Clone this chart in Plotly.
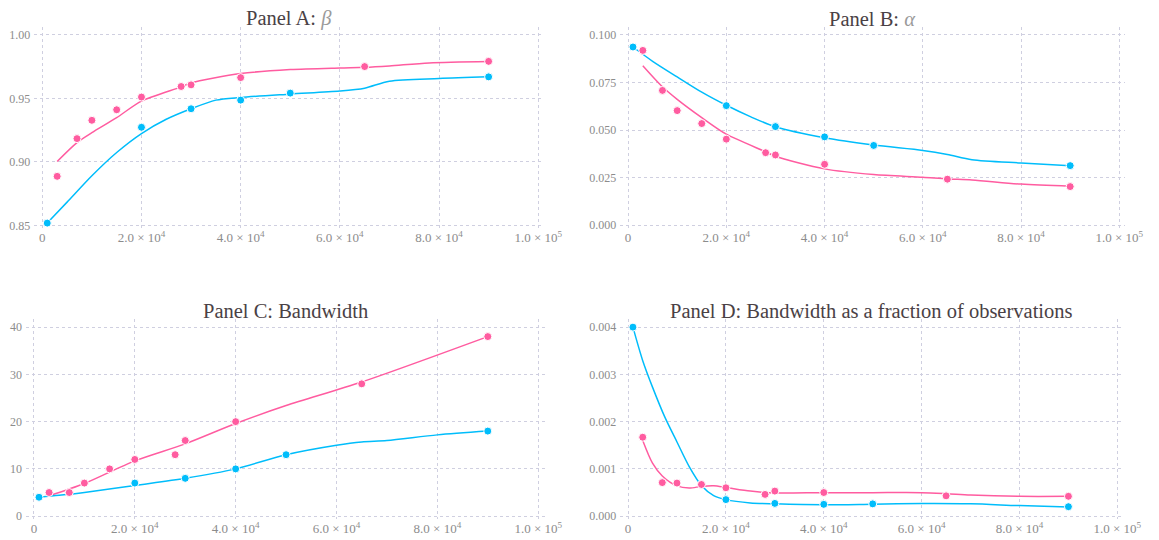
import plotly.graph_objects as go

W, H = 1159, 540

# ---- sample sizes ----
pink_n = [3000, 7000, 10000, 15000, 20000, 28000, 30000, 40000, 65000, 90000]
blue_n = [1000, 20000, 30000, 40000, 50000, 90000]

# ---- Panel A: beta ----
beta_pink = [0.8886, 0.9183, 0.9327, 0.941, 0.951, 0.9593, 0.9606, 0.9663, 0.975, 0.9791]
beta_blue = [0.8518, 0.9272, 0.9418, 0.9486, 0.9541, 0.9669]
beta_pink_fit_x = [3000, 7000, 10000, 15000, 20000, 28000, 30000, 40000, 50000, 60000, 65000, 70000, 78000, 90000]
beta_pink_fit_y = [0.9003, 0.9152, 0.923, 0.9348, 0.9478, 0.959, 0.9622, 0.9695, 0.9726, 0.9739, 0.9744, 0.9755, 0.9778, 0.9789]
beta_blue_fit_x = [1000, 5000, 10000, 15000, 20000, 25000, 30000, 35000, 40000, 50000, 60000, 65000, 70000, 80000, 90000]
beta_blue_fit_y = [0.8518, 0.8683, 0.8891, 0.9074, 0.9223, 0.9335, 0.9418, 0.9486, 0.9507, 0.9533, 0.9557, 0.958, 0.9635, 0.9656, 0.9669]

# ---- Panel B: alpha ----
alpha_pink = [0.0918, 0.0708, 0.0602, 0.0534, 0.0452, 0.0381, 0.0369, 0.032, 0.0242, 0.0203]
alpha_blue = [0.0936, 0.0628, 0.0518, 0.0464, 0.0419, 0.0313]
alpha_pink_fit_x = [3000, 7000, 10000, 15000, 20000, 28000, 30000, 40000, 50000, 60000, 65000, 70000, 80000, 90000]
alpha_pink_fit_y = [0.0838, 0.0727, 0.0661, 0.0565, 0.0478, 0.0386, 0.0362, 0.0296, 0.0266, 0.0252, 0.0243, 0.0238, 0.0216, 0.0205]
alpha_blue_fit_x = [1000, 5000, 10000, 15000, 20000, 25000, 30000, 40000, 50000, 60000, 65000, 70000, 80000, 90000]
alpha_blue_fit_y = [0.0936, 0.0861, 0.0779, 0.0699, 0.063, 0.0569, 0.0517, 0.0459, 0.0421, 0.0393, 0.0372, 0.0344, 0.0327, 0.0313]

# ---- Panel C: bandwidth ----
bw_pink = [5, 5, 7, 10, 12, 13, 16, 20, 28, 38]
bw_blue = [4, 7, 8, 10, 13, 18]
bw_pink_fit_x = [3000, 10000, 20000, 30000, 40000, 50000, 65000, 90000]
bw_pink_fit_y = [4.3, 6.9, 11.7, 15.3, 19.6, 23.4, 28.4, 38.0]
bw_blue_fit_x = [1000, 5000, 10000, 20000, 30000, 40000, 50000, 60000, 65000, 70000, 80000, 90000]
bw_blue_fit_y = [4.0, 4.4, 5.0, 6.5, 8.0, 10.0, 13.0, 15.0, 15.7, 16.0, 17.2, 18.0]

# ---- Panel D: bandwidth / observations ----
frac_pink = [0.00167, 0.00071, 0.0007, 0.00067, 0.0006, 0.00046, 0.00053, 0.0005, 0.00043, 0.00042]
frac_blue = [0.004, 0.00035, 0.00027, 0.00025, 0.00026, 0.0002]
frac_pink_fit_x = [3000, 5000, 7000, 10000, 12500, 15000, 17500, 20000, 25000, 30000, 40000, 50000, 60000, 65000, 70000, 80000, 90000]
frac_pink_fit_y = [0.0016, 0.00112, 0.00085, 0.00064, 0.000594, 0.00063, 0.000643, 0.000608, 0.00053, 0.00049, 0.000497, 0.000497, 0.000497, 0.000476, 0.000448, 0.00042, 0.00042]
frac_blue_fit_x = [1000, 3000, 5000, 7500, 10000, 12500, 15000, 17500, 20000, 25000, 30000, 40000, 50000, 60000, 70000, 80000, 90000]
frac_blue_fit_y = [0.004, 0.00329, 0.00273, 0.0021, 0.00157, 0.00105, 0.00065, 0.000434, 0.00035, 0.00028, 0.00026, 0.00024, 0.000252, 0.000266, 0.00026, 0.000224, 0.000196]

# ---- shared tick labels ----
x_tickvals = [0, 20000, 40000, 60000, 80000, 100000]
x_ticktext = ["0", "2.0 × 10<sup>4</sup>", "4.0 × 10<sup>4</sup>", "6.0 × 10<sup>4</sup>",
              "8.0 × 10<sup>4</sup>", "1.0 × 10<sup>5</sup>"]

PINK = "#ff5ca0"
BLUE = "#00bdfb"
GRID = "#cfcfe0"
TICK_FONT = dict(family="Liberation Serif, serif", size=12, color="#8c8c8c")
XTICK_FONT = dict(family="Liberation Serif, serif", size=13, color="#8c8c8c")
TITLE_FONT = dict(family="Liberation Serif, serif", size=20.5, color="#4a4145")

X_RANGE = [-1600, 101250]

# panels: (title, pixel left/right of plot area, pixel top/bottom, y range, y ticks, y format, series)
panels = [
    ("Panel A: <span style='color:#9a9a9a'><i>β</i></span>", (34.9, 553.0), (27, 230), [0.8477, 1.0063],
     [0.85, 0.90, 0.95, 1.00], ".2f",
     (beta_pink, beta_blue, beta_pink_fit_x, beta_pink_fit_y, beta_blue_fit_x, beta_blue_fit_y)),
    ("Panel B: <span style='color:#9a9a9a'><i>α</i></span>", (630.0, 1143.2), (27, 230), [-0.0016, 0.1042],
     [0.0, 0.025, 0.05, 0.075, 0.1], ".3f",
     (alpha_pink, alpha_blue, alpha_pink_fit_x, alpha_pink_fit_y, alpha_blue_fit_x, alpha_blue_fit_y)),
    ("Panel C: Bandwidth", (26.3, 553.1), (321, 523), [-0.63, 41.8],
     [0, 10, 20, 30, 40], "d",
     (bw_pink, bw_blue, bw_pink_fit_x, bw_pink_fit_y, bw_blue_fit_x, bw_blue_fit_y)),
    ("Panel D: Bandwidth as a fraction of observations", (630.0, 1141.2), (321, 523), [-0.000063, 0.00418],
     [0, 0.001, 0.002, 0.003, 0.004], ".3f",
     (frac_pink, frac_blue, frac_pink_fit_x, frac_pink_fit_y, frac_blue_fit_x, frac_blue_fit_y)),
]

fig = go.Figure()
layout = dict(
    width=W, height=H,
    margin=dict(l=0, r=0, t=0, b=0),
    paper_bgcolor="white", plot_bgcolor="white",
    showlegend=False,
    annotations=[],
)

for i, (title, (px0, px1), (py0, py1), yr, yticks, yfmt, series) in enumerate(panels, start=1):
    xa = "x" if i == 1 else f"x{i}"
    ya = "y" if i == 1 else f"y{i}"
    xkey = "xaxis" if i == 1 else f"xaxis{i}"
    ykey = "yaxis" if i == 1 else f"yaxis{i}"
    layout[xkey] = dict(
        domain=[px0 / W, px1 / W], anchor=ya, range=X_RANGE,
        tickvals=x_tickvals, ticktext=x_ticktext, tickfont=XTICK_FONT,
        showgrid=True, gridcolor=GRID, griddash="dot", gridwidth=1,
        zeroline=False, showline=False, ticks="",
    )
    layout[ykey] = dict(
        domain=[1 - py1 / H, 1 - py0 / H], anchor=xa, range=yr,
        tickvals=yticks, tickformat=yfmt, tickfont=TICK_FONT,
        showgrid=True, gridcolor=GRID, griddash="dot", gridwidth=1,
        zeroline=False, showline=False, ticks="", ticklabelstandoff=3,
    )
    layout["annotations"].append(dict(
        text=title, xref="paper", yref="paper",
        x=(px0 + px1) / 2 / W, y=1 - (py0 - 8) / H,
        xanchor="center", yanchor="middle", showarrow=False, font=TITLE_FONT,
    ))

    p_y, b_y, pfx, pfy, bfx, bfy = series
    for fx, fy, col in ((pfx, pfy, PINK), (bfx, bfy, BLUE)):
        fig.add_trace(go.Scatter(
            x=fx, y=fy, mode="lines", xaxis=xa, yaxis=ya,
            line=dict(color=col, width=1.5, shape="spline", smoothing=0.8),
            hoverinfo="skip",
        ))
    for xs, ys, col in ((pink_n, p_y, PINK), (blue_n, b_y, BLUE)):
        fig.add_trace(go.Scatter(
            x=xs, y=ys, mode="markers", xaxis=xa, yaxis=ya,
            marker=dict(color=col, size=8, line=dict(color="white", width=1)),
        ))

fig.update_layout(**layout)

# keep the page exactly the size of the figure (no body margin, no scrollbars)
page_fix = "document.body.style.margin='0';document.body.style.overflow='hidden';"
fig.write_html("out.html", post_script=page_fix)
